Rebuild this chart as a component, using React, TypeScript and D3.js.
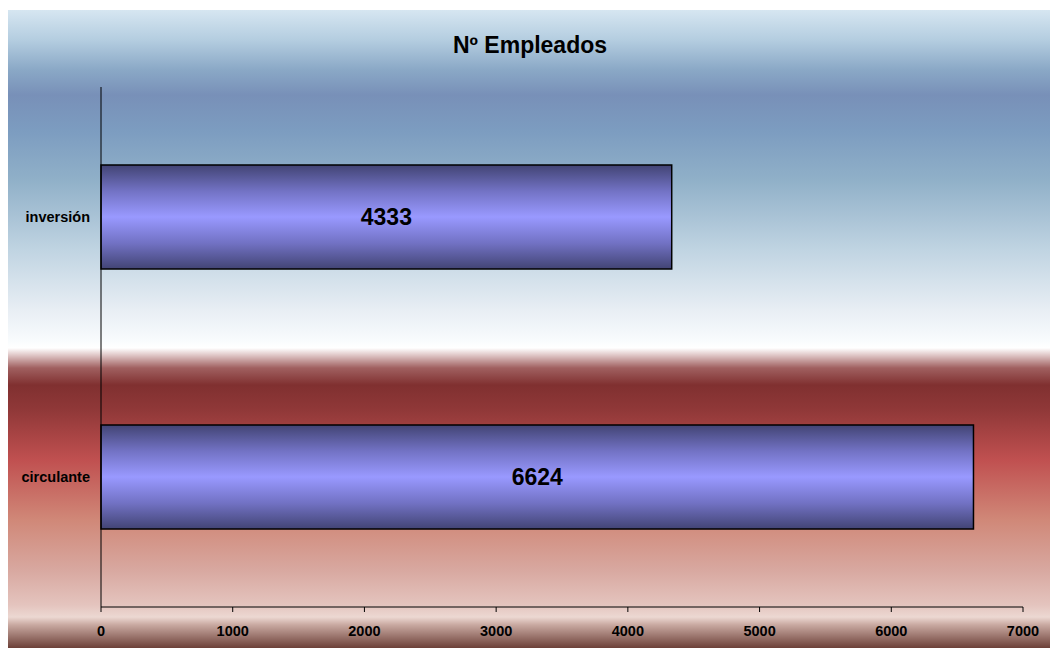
import React from "react";
import * as d3 from "d3";

const categories = ["inversión", "circulante"];
const values = [4333, 6624];
const xTicks = [0, 1000, 2000, 3000, 4000, 5000, 6000, 7000];
const title = "Nº Empleados";

const bgStops: [number, string][] = [
  [10, "#d6e6f1"],
  [40, "#b4cde0"],
  [70, "#8aa8c6"],
  [95, "#7890b8"],
  [130, "#7c9cc0"],
  [180, "#90b0c8"],
  [250, "#c0d4e2"],
  [310, "#e8eef4"],
  [340, "#f8fbfd"],
  [348, "#ffffff"],
  [355, "#e0c8c8"],
  [368, "#a06060"],
  [385, "#803030"],
  [410, "#903838"],
  [460, "#c05050"],
  [520, "#d08878"],
  [570, "#d8a8a0"],
  [605, "#e4c4be"],
  [617, "#ecd8d2"],
  [625, "#c8a8a0"],
  [648, "#6c4038"],
];

export default function App() {
  const W = 1050, H = 648;
  const left = 101, right = 1023, top = 87, bottom = 607;
  const x = d3.scaleLinear().domain([0, 7000]).range([left, right]);
  const y = d3.scaleBand<string>().domain(categories).range([top, bottom]).paddingInner(0.6).paddingOuter(0.3);
  const font = "'Liberation Sans', Arial, sans-serif";
  return (
    <svg width={W} height={H} style={{ position: "absolute", left: 0, top: 0 }}>
      <defs>
        <linearGradient id="bg" gradientUnits="userSpaceOnUse" x1={0} y1={10} x2={0} y2={648}>
          {bgStops.map(([yy, c], i) => (
            <stop key={i} offset={(yy - 10) / 638} stopColor={c} />
          ))}
        </linearGradient>
        <linearGradient id="bar" x1={0} y1={0} x2={0} y2={1}>
          <stop offset={0} stopColor="#424474" />
          <stop offset={0.25} stopColor="#7272c4" />
          <stop offset={0.5} stopColor="#9999ff" />
          <stop offset={0.75} stopColor="#7272c4" />
          <stop offset={1} stopColor="#424474" />
        </linearGradient>
      </defs>
      <rect x={8} y={10} width={W - 8} height={H - 10} fill="url(#bg)" />
      <text x={530} y={53} textAnchor="middle" fontFamily={font} fontWeight="bold" fontSize={23} fill="#000">{title}</text>
      {categories.map((c, i) => {
        const by = y(c)!;
        const bh = y.bandwidth();
        return (
          <g key={c}>
            <rect x={x(0)} y={by} width={x(values[i]) - x(0)} height={bh} fill="url(#bar)" stroke="#000" strokeWidth={1.5} />
            <text x={(x(0) + x(values[i])) / 2} y={by + bh / 2 + 8} textAnchor="middle" fontFamily={font} fontWeight="bold" fontSize={23} fill="#000">{values[i]}</text>
            <text x={90} y={by + bh / 2 + 5} textAnchor="end" fontFamily={font} fontWeight="bold" fontSize={14.5} fill="#000">{c}</text>
          </g>
        );
      })}
      <line x1={left} y1={top} x2={left} y2={bottom} stroke="#000" strokeWidth={1} />
      <line x1={left} y1={bottom} x2={right} y2={bottom} stroke="#000" strokeWidth={1} />
      {xTicks.map((t) => (
        <g key={t}>
          <line x1={x(t)} y1={bottom} x2={x(t)} y2={bottom + 5} stroke="#000" strokeWidth={1} />
          <text x={x(t)} y={bottom + 29} textAnchor="middle" fontFamily={font} fontWeight="bold" fontSize={14.5} fill="#000">{t}</text>
        </g>
      ))}
    </svg>
  );
}
